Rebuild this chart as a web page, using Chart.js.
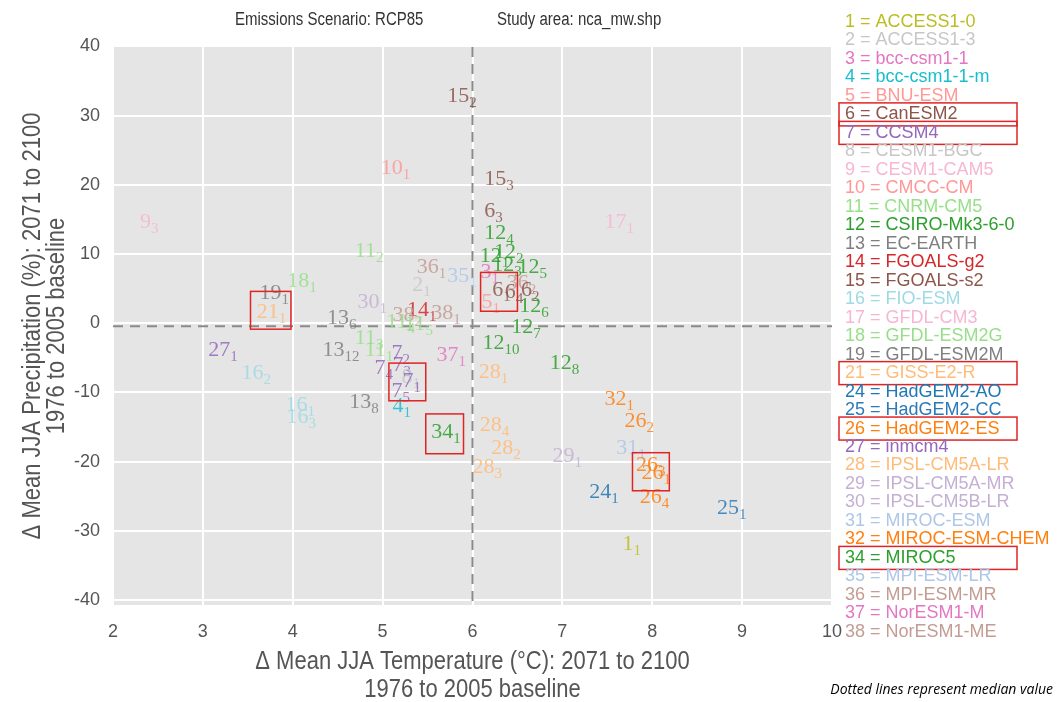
<!DOCTYPE html>
<html>
<head>
<meta charset="utf-8">
<script src="https://cdn.jsdelivr.net/npm/chart.js@4.4.1/dist/chart.umd.min.js"></script>
<style>
  html, body { margin: 0; padding: 0; background: #fff; }
  #wrap { width: 1057px; height: 702px; }
</style>
</head>
<body>
<div id="wrap"><canvas id="chart" width="1057" height="702"></canvas></div>
<script>
// each label = model number with run number as subscript
const modelIds = [15, 10, 9, 15, 6, 12, 17, 12, 12, 12, 12, 3, 36, 6, 6, 6, 5, 12, 12, 12, 12, 28,
  11, 36, 35, 2, 18, 19, 21, 30, 13, 14, 38, 38, 11, 11, 11, 11, 13, 27, 16, 7, 7, 7, 8, 7, 7, 4,
  13, 16, 16, 37, 34, 28, 28, 28, 29, 32, 26, 31, 26, 26, 24, 26, 25, 1];
const runIds = [2, 1, 3, 3, 3, 4, 1, 1, 2, 3, 5, 1, 2, 1, 4, 2, 1, 6, 7, 10, 8, 1,
  2, 1, 1, 1, 1, 1, 1, 1, 6, 1, 1, 2, 4, 5, 3, 1, 12, 1, 2, 2, 4, 3, 1, 1, 5, 1,
  8, 1, 3, 1, 1, 4, 2, 3, 1, 1, 2, 1, 3, 1, 1, 4, 1, 1];
// delta temperature (°C)
const tempChange = [5.72, 4.98, 2.30, 6.13, 6.13, 6.13, 7.47, 6.08, 6.24, 6.22, 6.50, 6.09, 6.38, 6.22, 6.36, 6.54, 6.10, 6.52, 6.43, 6.11, 6.86, 6.07,
  4.69, 5.38, 5.72, 5.33, 3.94, 3.63, 3.60, 4.72, 4.38, 5.27, 5.54, 5.11, 5.04, 5.24, 4.69, 4.80, 4.33, 3.06, 3.43, 5.10, 4.91, 5.11, 5.21, 5.22, 5.10, 5.11,
  4.63, 3.92, 3.93, 5.60, 5.54, 6.08, 6.21, 6.00, 6.89, 7.47, 7.69, 7.60, 7.82, 7.88, 7.30, 7.86, 8.72, 7.67];
// delta precipitation (%)
const precipChange = [31.9, 21.6, 13.7, 20.0, 15.4, 12.1, 13.7, 8.9, 9.4, 7.5, 7.2, 6.5, 5.0, 3.9, 3.6, 3.9, 2.2, 1.6, -1.4, -3.7, -6.6, -7.9,
  9.6, 7.2, 6.0, 4.6, 5.3, 3.5, 0.7, 2.2, -0.1, 1.0, 0.6, 0.3, -0.7, -1.0, -3.0, -4.8, -4.8, -4.8, -8.1, -5.2, -7.3, -6.9, -8.6, -9.2, -10.7, -12.8,
  -12.2, -12.7, -14.4, -5.5, -16.6, -15.5, -18.9, -21.6, -20.1, -11.8, -15.0, -18.9, -21.3, -22.5, -25.2, -25.9, -27.5, -32.8];

const medianTemp = 6.0;
const medianPrecip = -0.45;

const xTicks = [2, 3, 4, 5, 6, 7, 8, 9, 10];
const yTicks = [-40, -30, -20, -10, 0, 10, 20, 30, 40];

const legendIds = [1, 2, 3, 4, 5, 6, 7, 8, 9, 10, 11, 12, 13, 14, 15, 16, 17, 18, 19, 21, 24, 25, 26,
  27, 28, 29, 30, 31, 32, 34, 35, 36, 37, 38];
const legendNames = ['ACCESS1-0', 'ACCESS1-3', 'bcc-csm1-1', 'bcc-csm1-1-m', 'BNU-ESM', 'CanESM2', 'CCSM4',
  'CESM1-BGC', 'CESM1-CAM5', 'CMCC-CM', 'CNRM-CM5', 'CSIRO-Mk3-6-0', 'EC-EARTH', 'FGOALS-g2', 'FGOALS-s2',
  'FIO-ESM', 'GFDL-CM3', 'GFDL-ESM2G', 'GFDL-ESM2M', 'GISS-E2-R', 'HadGEM2-AO', 'HadGEM2-CC', 'HadGEM2-ES',
  'inmcm4', 'IPSL-CM5A-LR', 'IPSL-CM5A-MR', 'IPSL-CM5B-LR', 'MIROC-ESM', 'MIROC-ESM-CHEM', 'MIROC5',
  'MPI-ESM-LR', 'MPI-ESM-MR', 'NorESM1-M', 'NorESM1-ME'];
const highlightIds = [6, 7, 21, 26, 34];

// red boxes drawn over the plot, in data units [xMin, xMax, yMin, yMax]
const plotBoxes = [
  [3.53, 3.98, -0.86, 4.6],
  [6.09, 6.50, 1.73, 7.34],
  [5.07, 5.48, -11.2, -5.76],
  [5.48, 5.90, -18.85, -13.1],
  [7.78, 8.19, -24.2, -18.7]
];

const modelColors = {
  1: '#bcbd22', 2: '#c7c7c7', 3: '#e377c2', 4: '#17becf', 5: '#ff9896', 6: '#8c564b', 7: '#9467bd',
  8: '#c7c7c7', 9: '#f7b6d2', 10: '#ff9896', 11: '#98df8a', 12: '#2ca02c', 13: '#7f7f7f', 14: '#d62728',
  15: '#8c564b', 16: '#9edae5', 17: '#f7b6d2', 18: '#98df8a', 19: '#7f7f7f', 21: '#ffbb78', 24: '#1f77b4',
  25: '#2a7ab8', 26: '#ff7f0e', 27: '#9467bd', 28: '#ffbb78', 29: '#c5b0d5', 30: '#c5b0d5', 31: '#aec7e8',
  32: '#ff7f0e', 34: '#2ca02c', 35: '#aec7e8', 36: '#c49c94', 37: '#e377c2', 38: '#c49c94'
};

const SANS = '"Liberation Sans", Arial, sans-serif';
const SERIF = '"Liberation Serif", "DejaVu Serif", serif';

const points = tempChange.map((t, i) => ({ x: t, y: precipChange[i] }));

// text a little taller than wide, like the original picture
function tallText(ctx, str, x, y, rot) {
  ctx.save();
  ctx.translate(x, y);
  if (rot) ctx.rotate(rot);
  ctx.scale(1, 1.2);
  ctx.fillText(str, 0, 0);
  ctx.restore();
}

// gray panel behind the grid
const panelBg = {
  id: 'panelBg',
  beforeDraw(chart) {
    const a = chart.chartArea, ctx = chart.ctx;
    ctx.save();
    ctx.fillStyle = '#e5e5e5';
    ctx.fillRect(a.left, a.top, a.right - a.left, a.bottom - a.top);
    ctx.restore();
  }
};

// dashed median lines
const medianLines = {
  id: 'medianLines',
  beforeDatasetsDraw(chart) {
    const a = chart.chartArea, ctx = chart.ctx;
    const mx = chart.scales.x.getPixelForValue(medianTemp);
    const my = chart.scales.y.getPixelForValue(medianPrecip);
    ctx.save();
    ctx.strokeStyle = '#8a8a8a';
    ctx.lineWidth = 2;
    ctx.setLineDash([10, 7]);
    ctx.beginPath();
    ctx.moveTo(mx, a.top);
    ctx.lineTo(mx, a.bottom);
    ctx.moveTo(a.left, my);
    ctx.lineTo(a.right, my);
    ctx.stroke();
    ctx.restore();
  }
};

// text labels at each point, then the red highlight boxes
const runLabels = {
  id: 'runLabels',
  afterDatasetsDraw(chart) {
    const ctx = chart.ctx;
    const meta = chart.getDatasetMeta(0);
    ctx.save();
    ctx.textAlign = 'left';
    ctx.textBaseline = 'alphabetic';
    ctx.globalAlpha = 0.85;
    meta.data.forEach((pt, i) => {
      ctx.fillStyle = modelColors[modelIds[i]];
      ctx.font = '22px ' + SERIF;
      const main = String(modelIds[i]);
      ctx.fillText(main, pt.x, pt.y);
      const w = ctx.measureText(main).width;
      ctx.font = '15px ' + SERIF;
      ctx.fillText(String(runIds[i]), pt.x + w, pt.y + 5);
    });
    ctx.globalAlpha = 1;
    const sx = chart.scales.x, sy = chart.scales.y;
    ctx.strokeStyle = '#e02424';
    ctx.lineWidth = 1.5;
    plotBoxes.forEach(b => {
      const x0 = sx.getPixelForValue(b[0]), x1 = sx.getPixelForValue(b[1]);
      const y0 = sy.getPixelForValue(b[3]), y1 = sy.getPixelForValue(b[2]);
      ctx.strokeRect(x0, y0, x1 - x0, y1 - y0);
    });
    ctx.restore();
  }
};

// title, axis titles, model legend and footnote
const annotations = {
  id: 'annotations',
  afterDraw(chart) {
    const a = chart.chartArea, ctx = chart.ctx;
    ctx.save();
    ctx.fillStyle = '#333';
    ctx.textBaseline = 'middle';
    ctx.textAlign = 'left';
    ctx.font = '15px ' + SANS;
    tallText(ctx, 'Emissions Scenario: RCP85', 235, 20);
    tallText(ctx, 'Study area: nca_mw.shp', 497, 20);

    ctx.fillStyle = '#555';
    ctx.textAlign = 'center';
    ctx.font = '22px ' + SANS;
    const cx = (a.left + a.right) / 2;
    tallText(ctx, '\u0394 Mean JJA Temperature (\u00b0C): 2071 to 2100', cx, 662);
    tallText(ctx, '1976 to 2005 baseline', cx, 690);

    const cy = (a.top + a.bottom) / 2;
    tallText(ctx, '\u0394 Mean JJA Precipitation (%): 2071 to 2100', 33, cy, -Math.PI / 2);
    tallText(ctx, '1976 to 2005 baseline', 57, cy, -Math.PI / 2);

    ctx.textAlign = 'left';
    ctx.font = '18px ' + SANS;
    const lx = a.right + 13;
    legendIds.forEach((id, i) => {
      const y = 22 + i * 18.48;
      ctx.fillStyle = modelColors[id];
      ctx.fillText(id + ' = ' + legendNames[i], lx, y);
      if (highlightIds.includes(id)) {
        ctx.strokeStyle = '#e02424';
        ctx.lineWidth = 1.5;
        ctx.strokeRect(a.right + 7, y - 11.5, 178, 23);
      }
    });

    ctx.fillStyle = '#000';
    ctx.font = 'italic 14px "Open Sans", sans-serif';
    ctx.textAlign = 'right';
    ctx.fillText('Dotted lines represent median value', 1053, 690);
    ctx.restore();
  }
};

new Chart(document.getElementById('chart'), {
  type: 'scatter',
  data: {
    datasets: [{
      data: points,
      pointRadius: 0,
      pointHoverRadius: 0
    }]
  },
  options: {
    responsive: false,
    animation: false,
    events: [],
    layout: { padding: { top: 47, right: 225, left: 0, bottom: 0 } },
    plugins: {
      legend: { display: false },
      tooltip: { enabled: false }
    },
    scales: {
      x: {
        type: 'linear',
        min: 2,
        max: 10,
        afterBuildTicks: s => { s.ticks = xTicks.map(v => ({ value: v })); },
        afterFit: s => { s.height = 97; },
        grid: { color: '#ffffff', lineWidth: 2, drawTicks: false },
        border: { display: false },
        ticks: { color: '#555', font: { family: SANS, size: 18 }, padding: 16 }
      },
      y: {
        type: 'linear',
        min: -40.7,
        max: 39.9,
        afterBuildTicks: s => { s.ticks = yTicks.map(v => ({ value: v })); },
        afterFit: s => { s.width = 113; },
        grid: { color: '#ffffff', lineWidth: 2, drawTicks: false },
        border: { display: false },
        ticks: { color: '#555', font: { family: SANS, size: 18 }, padding: 13 }
      }
    }
  },
  plugins: [panelBg, medianLines, runLabels, annotations]
});
</script>
</body>
</html>
